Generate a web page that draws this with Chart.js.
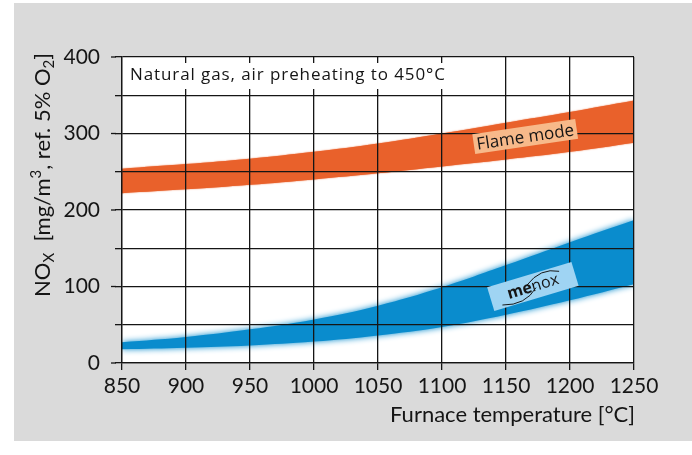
<!DOCTYPE html>
<html>
<head>
<meta charset="utf-8">
<script src="https://cdn.jsdelivr.net/npm/chart.js@4.4.0/dist/chart.umd.min.js"></script>
<style>
  html, body { margin: 0; padding: 0; background: #fff; }
  canvas { display: block; }
</style>
</head>
<body>
<canvas id="chart" width="692" height="455"></canvas>
<script>
// furnace temperature, °C
const temps = [850, 900, 950, 1000, 1050, 1100, 1150, 1200, 1250];
// NOx band edges, mg/m3
const flameLow = [222, 227, 233, 240, 248, 257, 266, 276, 288];
const flameHigh = [254, 260, 267, 276, 287, 300, 314, 328, 343];
const menoxLow = [18, 20, 23, 28, 36, 47, 63, 82, 103];
const menoxHigh = [27, 34, 44, 57, 75, 99, 128, 158, 187];
const yLabels = [0, 100, 200, 300, 400];

const FONT = "Lato, 'Open Sans', sans-serif";
const NOTE_FONT = "'Open Sans', Lato, sans-serif";
const ORANGE = "#e9612b";
const BLUE = "#0a8ccd";
const GRAY = "#dadada";
const INK = "#151515";

function pts(ys) {
  return temps.map((t, i) => ({ x: t, y: ys[i] }));
}

function band(data, fill, color) {
  return {
    data: pts(data),
    borderWidth: 0,
    borderColor: "rgba(0,0,0,0)",
    pointRadius: 0,
    tension: 0.4,
    fill: fill,
    backgroundColor: color,
  };
}

function drawRich(c, parts, size) {
  // measure first, then draw centred on 0
  let w = 0;
  parts.forEach(p => {
    c.font = (p.sub || p.sup ? Math.round(size * 0.68) : size) + "px " + FONT;
    p.w = c.measureText(p.t).width;
    w += p.w;
  });
  let x = -w / 2;
  parts.forEach(p => {
    c.font = (p.sub || p.sup ? Math.round(size * 0.68) : size) + "px " + FONT;
    const dy = p.sub ? size * 0.2 : p.sup ? -size * 0.42 : 0;
    c.fillText(p.t, x, dy);
    x += p.w;
  });
}

const decor = {
  id: "decor",
  beforeDraw(chart) {
    const c = chart.ctx, a = chart.chartArea;
    c.save();
    c.fillStyle = "#fff";
    c.fillRect(0, 0, chart.width, chart.height);
    c.fillStyle = GRAY;
    c.fillRect(14, 3, chart.width - 14, 438);
    c.fillStyle = "#fff";
    c.fillRect(a.left, a.top, a.right - a.left, a.bottom - a.top);
    c.restore();
  },
  // soft edges on the bands
  beforeDatasetsDraw(chart) {
    const c = chart.ctx;
    c.save();
    c.shadowColor = BLUE;
    c.shadowBlur = 6;
  },
  afterDatasetDraw(chart, args) {
    if (args.index === 2) {
      chart.ctx.shadowColor = ORANGE;
      chart.ctx.shadowBlur = 1.5;
    }
  },
  afterDatasetsDraw(chart) {
    chart.ctx.restore();
  },
  afterDraw(chart) {
    const c = chart.ctx, a = chart.chartArea;
    const ys = chart.scales.y, xs = chart.scales.x;
    c.save();
    // longer ticks for labelled values
    c.strokeStyle = INK;
    c.lineWidth = 1.3;
    yLabels.forEach(v => {
      const y = ys.getPixelForValue(v);
      c.beginPath();
      c.moveTo(a.left - 11, y);
      c.lineTo(a.left - 6, y);
      c.stroke();
    });

    // note box
    c.font = "17px " + NOTE_FONT;
    const note = "Natural gas, air preheating to 450°C";
    const nw = c.measureText(note).width;
    c.letterSpacing = Math.max(0, (316 - nw) / note.length).toFixed(2) + "px";
    c.fillStyle = "#fff";
    c.fillRect(a.left + 1, 63, 328, 26);
    c.fillStyle = INK;
    c.textBaseline = "alphabetic";
    c.fillText(note, a.left + 8, 80);
    c.letterSpacing = "0px";

    // Flame mode label
    c.save();
    c.translate(xs.getPixelForValue(1165), ys.getPixelForValue(296));
    c.rotate(-8.4 * Math.PI / 180);
    c.fillStyle = "#f7b98a";
    c.fillRect(-52, -10, 104, 20);
    c.fillStyle = INK;
    c.font = "17px " + NOTE_FONT;
    c.textAlign = "center";
    c.fillText("Flame mode", 0, 6);
    c.restore();

    // menox label
    c.save();
    c.translate(xs.getPixelForValue(1171), ys.getPixelForValue(100));
    c.rotate(-16.7 * Math.PI / 180);
    c.fillStyle = "#9fd4f3";
    c.fillRect(-44, -12.5, 88, 25);
    c.fillStyle = INK;
    c.font = "bold 16px " + NOTE_FONT;
    const mw = c.measureText("me").width;
    c.font = "16px " + NOTE_FONT;
    const nxw = c.measureText("nox").width;
    const sx = -(mw + nxw) / 2;
    c.font = "bold 16px " + NOTE_FONT;
    c.fillText("me", sx, 5);
    c.font = "16px " + NOTE_FONT;
    c.fillText("nox", sx + mw, 5);
    c.lineWidth = 0.9;
    c.beginPath();
    c.moveTo(sx + mw - 4, -3);
    c.quadraticCurveTo(sx + mw + 14, -16, sx + mw + nxw + 3, -7);
    c.stroke();
    c.beginPath();
    c.moveTo(sx - 8, 9);
    c.quadraticCurveTo(sx + 14, 16, sx + mw + 4, 2);
    c.stroke();
    c.restore();

    // axis titles
    c.fillStyle = INK;
    c.font = "22px " + FONT;
    c.textAlign = "right";
    c.fillText("Furnace temperature [°C]", a.right + 1, 422);

    c.save();
    c.translate(50, 175);
    c.rotate(-Math.PI / 2);
    c.textAlign = "left";
    drawRich(c, [
      { t: "NO" }, { t: "X", sub: true }, { t: "  [mg/m" }, { t: "3", sup: true },
      { t: ", ref. 5% O" }, { t: "2", sub: true }, { t: "]" }
    ], 22);
    c.restore();

    c.restore();
  }
};

const chart = new Chart(document.getElementById("chart").getContext("2d"), {
  type: "line",
  data: {
    datasets: [
      band(flameLow, false, ORANGE),
      band(flameHigh, "-1", ORANGE),
      band(menoxLow, false, BLUE),
      band(menoxHigh, "-1", BLUE),
    ],
  },
  options: {
    responsive: false,
    animation: false,
    devicePixelRatio: 1,
    layout: { padding: { top: 57, right: 58, left: 0, bottom: 0 } },
    plugins: { legend: { display: false }, tooltip: { enabled: false } },
    scales: {
      x: {
        type: "linear",
        min: 850,
        max: 1250,
        afterFit(s) { s.height = 92; },
        ticks: {
          stepSize: 50,
          color: INK,
          padding: 4,
          maxRotation: 0,
          font: { family: FONT, size: 21 },
          callback: v => String(v),
        },
        grid: { color: INK, lineWidth: 1.3, tickLength: 7, z: 1 },
        border: { color: INK, width: 1.3, z: 2 },
      },
      y: {
        min: 0,
        max: 400,
        afterFit(s) { s.width = 122; },
        ticks: {
          stepSize: 50,
          color: INK,
          padding: 15,
          font: { family: FONT, size: 21 },
          callback: v => (yLabels.includes(v) ? String(v) : ""),
        },
        grid: { color: INK, lineWidth: 1.3, tickLength: 7, z: 1 },
        border: { color: INK, width: 1.3, z: 2 },
      },
    },
  },
  plugins: [decor],
});
</script>
</body>
</html>
